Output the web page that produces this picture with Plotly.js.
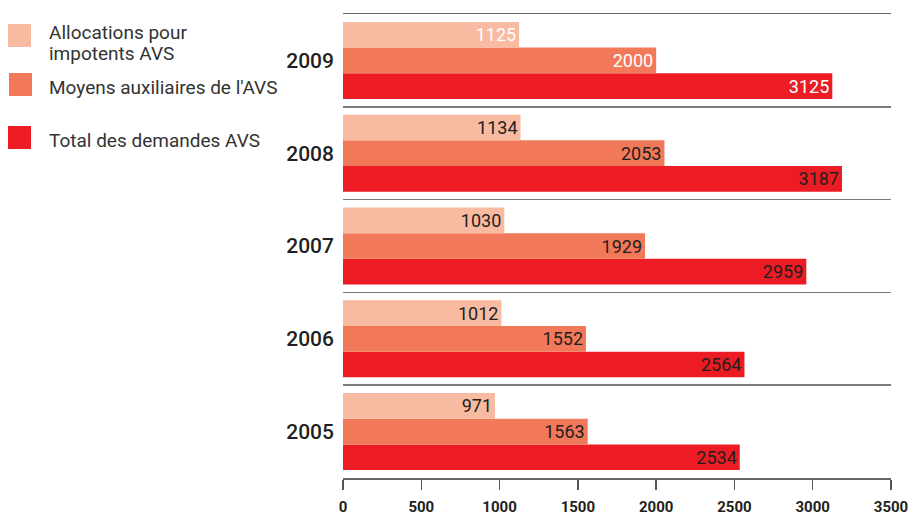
<!DOCTYPE html>
<html>
<head>
<meta charset="utf-8">
<script src="https://cdn.plot.ly/plotly-3.0.1.min.js"></script>
<style>
html,body{margin:0;padding:0;background:#fff;}
#chart{width:910px;height:514px;}
</style>
</head>
<body>
<div id="chart"></div>
<script>
// Data
var years = ['2005', '2006', '2007', '2008', '2009'];
var allocations = [971, 1012, 1030, 1134, 1125];
var moyens = [1563, 1552, 1929, 2053, 2000];
var total = [2534, 2564, 2959, 3187, 3125];
var seriesNames = ['Allocations pour<br>impotents AVS', "Moyens auxiliaires de l'AVS", 'Total des demandes AVS'];
var seriesColors = ['#F9BAA2', '#F2785A', '#ED1C24'];
var xTicks = [0, 500, 1000, 1500, 2000, 2500, 3000, 3500];

var FONT = 'Roboto, "DejaVu Sans Condensed", sans-serif';
var dark = '#231F20';
var labelColors = years.map(function (y) { return y === '2009' ? '#FFFFFF' : dark; });

function barTrace(vals, idx) {
  return {
    type: 'bar',
    orientation: 'h',
    y: years,
    x: vals,
    name: seriesNames[idx].replace('<br>', ' '),
    marker: { color: seriesColors[idx], line: { width: 0 } },
    text: vals.map(String),
    textposition: 'inside',
    insidetextanchor: 'end',
    textangle: 0,
    constraintext: 'none',
    cliponaxis: false,
    textfont: { family: FONT, size: 18, weight: 'normal', color: labelColors },
    hoverinfo: 'x+name',
    showlegend: false
  };
}

// order: bottom of group first
var data = [barTrace(total, 2), barTrace(moyens, 1), barTrace(allocations, 0)];

// Custom legend (left side)
var L = 343, W = 548, B = 478, H = 464;
function px(x) { return (x - L) / W; }
function py(y) { return (B - y) / H; }
var legendBoxes = [[8, 24], [9, 73], [8, 126]];
var legendTextY = [33, 88, 140];
var lineStep = 20;
var shapes = [];
var annotations = [];
for (var i = 0; i < 3; i++) {
  var bx = legendBoxes[i][0], by = legendBoxes[i][1];
  shapes.push({
    type: 'rect', xref: 'paper', yref: 'paper',
    x0: px(bx), x1: px(bx + 23), y0: py(by + 23), y1: py(by),
    fillcolor: seriesColors[i], line: { width: 0 }
  });
  var lines = seriesNames[i].split('<br>');
  for (var j = 0; j < lines.length; j++) {
    annotations.push({
      xref: 'paper', yref: 'paper', x: px(47), y: py(legendTextY[i] + j * lineStep),
      xanchor: 'left', yanchor: 'middle', align: 'left', showarrow: false,
      text: lines[j],
      font: { family: FONT, size: 19, color: '#333333' }
    });
  }
}

var layout = {
  width: 910, height: 514,
  margin: { l: 343, r: 19, t: 14, b: 36 },
  paper_bgcolor: '#ffffff', plot_bgcolor: '#ffffff',
  barmode: 'group', bargap: 0.17, bargroupgap: 0,
  showlegend: false,
  font: { family: FONT, color: dark },
  xaxis: {
    range: [0, 3500], tickvals: xTicks, ticktext: xTicks.map(String),
    ticks: 'outside', ticklen: 10, tickwidth: 1.5, tickcolor: '#555555',
    showline: true, mirror: true, linecolor: '#666666', linewidth: 1.5,
    showgrid: false, zeroline: false,
    ticklabelstandoff: 4,
    tickfont: { family: FONT, size: 15, weight: 700, color: dark }
  },
  yaxis: {
    type: 'category', categoryorder: 'array', categoryarray: years,
    tickson: 'boundaries', ticks: '', showgrid: true,
    gridcolor: '#7a7a7a', gridwidth: 1.5, showline: false, zeroline: false,
    ticklabelstandoff: 8,
    tickfont: { family: FONT, size: 21, weight: 500, color: dark }
  },
  shapes: shapes,
  annotations: annotations
};

Plotly.newPlot('chart', data, layout, { displayModeBar: false, staticPlot: true });
</script>
</body>
</html>
